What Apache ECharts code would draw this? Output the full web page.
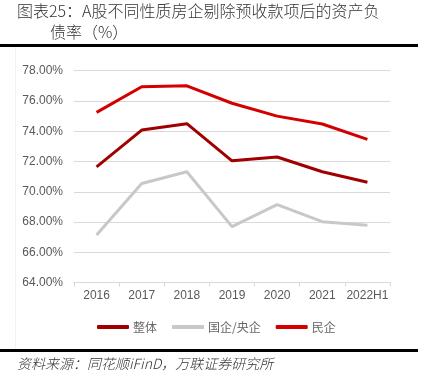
<!DOCTYPE html>
<html>
<head>
<meta charset="utf-8">
<script src="https://cdn.jsdelivr.net/npm/echarts@6/dist/echarts.min.js"></script>
<style>
html,body{margin:0;padding:0;background:#fff;}
#c{width:423px;height:387px;}
</style>
</head>
<body>
<div id="c"></div>
<script>
var categories = ['2016','2017','2018','2019','2020','2021','2022H1'];
var overall = [71.65, 74.08, 74.50, 72.05, 72.30, 71.33, 70.63];
var stateOwned = [67.15, 70.55, 71.33, 67.70, 69.15, 68.03, 67.80];
var privateOwned = [75.25, 76.94, 77.00, 75.85, 75.00, 74.48, 73.47];
var seriesNames = ['整体', '国企/央企', '民企'];
var titleLine1 = '图表25：A股不同性质房企剔除预收款项后的资产负';
var titleLine2 = '债率（%）';
var sourceText = '资料来源：同花顺iFinD，万联证券研究所';

var colors = ['#A00000', '#C8C8C8', '#D40000'];
var chart = echarts.init(document.getElementById('c'), null, {renderer:'canvas'});
var cjk = '"Noto Sans CJK SC", "Liberation Serif", serif';
chart.setOption({
  animation: false,
  backgroundColor: '#fff',
  color: colors,
  grid: {left: 74, right: 33, top: 70.7, bottom: 104.3},
  xAxis: {
    type: 'category',
    data: categories,
    boundaryGap: true,
    axisLine: {lineStyle: {color: '#D9D9D9', width: 1}},
    axisTick: {show: true, length: 4, lineStyle: {color: '#D9D9D9'}},
    axisLabel: {interval: 0, color: '#595959', fontSize: 12, margin: 7, fontFamily: '"Liberation Sans", Arial, sans-serif'}
  },
  yAxis: {
    type: 'value',
    min: 64, max: 78, interval: 2,
    axisLine: {show: false},
    axisTick: {show: false},
    splitLine: {lineStyle: {color: '#D9D9D9', width: 1}},
    axisLabel: {
      color: '#595959', fontSize: 12, margin: 11,
      fontFamily: '"Liberation Sans", Arial, sans-serif',
      formatter: function(v){ return v.toFixed(2) + '%'; }
    }
  },
  legend: {
    left: 92, top: 316,
    itemWidth: 32, itemHeight: 4, itemGap: 15,
    icon: 'roundRect',
    textStyle: {color: '#666', fontSize: 12, fontFamily: cjk, padding: [0,0,0,-1]},
    data: seriesNames
  },
  series: [
    {name: seriesNames[0], type: 'line', data: overall, symbol: 'none', lineStyle: {width: 3, color: colors[0]}, itemStyle: {color: colors[0]}},
    {name: seriesNames[1], type: 'line', data: stateOwned, symbol: 'none', lineStyle: {width: 3, color: colors[1]}, itemStyle: {color: colors[1]}},
    {name: seriesNames[2], type: 'line', data: privateOwned, symbol: 'none', lineStyle: {width: 3, color: colors[2]}, itemStyle: {color: colors[2]}}
  ],
  graphic: [
    {type: 'text', left: 17, top: 3, style: {text: titleLine1, fill: '#333', font: '300 16px ' + cjk}},
    {type: 'text', left: 50, top: 24, style: {text: titleLine2, fill: '#333', font: '300 16px ' + cjk}},
    {type: 'rect', shape: {x: 0, y: 44, width: 418, height: 3}, style: {fill: '#000'}},
    {type: 'rect', shape: {x: 15, y: 47, width: 1, height: 302}, style: {fill: '#F2F2F2'}},
    {type: 'rect', shape: {x: 0, y: 349, width: 418, height: 3}, style: {fill: '#000'}},
    {type: 'text', left: 17, top: 357, style: {text: sourceText, fill: '#333', font: 'italic 300 14px ' + cjk}}
  ]
});
</script>
</body>
</html>
